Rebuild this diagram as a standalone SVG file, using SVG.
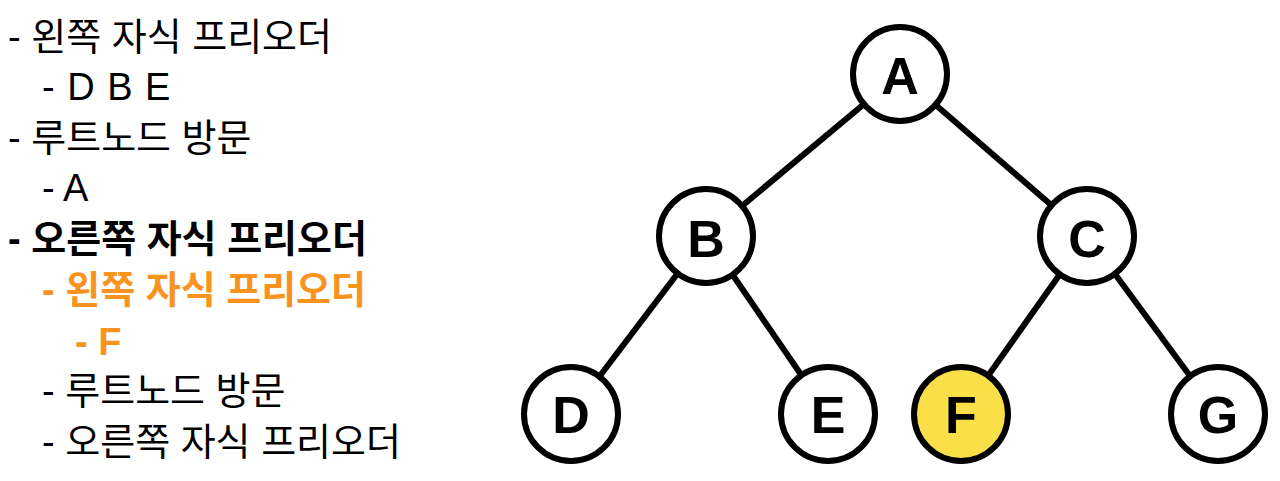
<svg xmlns="http://www.w3.org/2000/svg" width="1280" height="481" viewBox="0 0 1280 481">
<style>
.t{font-family:"Liberation Sans","Noto Sans CJK KR",sans-serif;font-size:38px;fill:#000}
.b{font-weight:bold}
.o{fill:#F7931E;font-weight:bold}
.n{fill:#fff;stroke:#000;stroke-width:6}
.hl{fill:#F9DF48}
.l{font-family:"Liberation Sans",Arial,sans-serif;font-size:52px;font-weight:bold;text-anchor:middle;fill:#000}
.e{stroke:#000;stroke-width:6;fill:none}
</style>
<rect width="1280" height="481" fill="#fff"/>
<g id="text">
<text class="t" x="8" y="50">- 왼쪽 자식 프리오더</text>
<text class="t" x="42" y="100" letter-spacing="1">- D B E</text>
<text class="t" x="8" y="151">- 루트노드 방문</text>
<text class="t" x="42" y="201">- A</text>
<text class="t b" x="8" y="252">- 오른쪽 자식 프리오더</text>
<text class="t o" x="42" y="303">- 왼쪽 자식 프리오더</text>
<text class="t o" x="75" y="355">- F</text>
<text class="t" x="42" y="404">- 루트노드 방문</text>
<text class="t" x="42" y="455">- 오른쪽 자식 프리오더</text>
</g>
<g id="edges">
<line class="e" x1="900" y1="74" x2="706" y2="236"/>
<line class="e" x1="900" y1="74" x2="1087" y2="236"/>
<line class="e" x1="706" y1="236" x2="571" y2="414"/>
<line class="e" x1="706" y1="236" x2="828" y2="414"/>
<line class="e" x1="1087" y1="236" x2="961" y2="414"/>
<line class="e" x1="1087" y1="236" x2="1218" y2="414"/>
</g>
<g id="A"><circle class="n" cx="900" cy="74" r="47"/><text class="l" x="900" y="94">A</text></g>
<g id="B"><circle class="n" cx="706" cy="236" r="47"/><text class="l" x="706" y="257">B</text></g>
<g id="C"><circle class="n" cx="1087" cy="236" r="47"/><text class="l" x="1087" y="257">C</text></g>
<g id="D"><circle class="n" cx="571" cy="414" r="47"/><text class="l" x="571" y="433">D</text></g>
<g id="E"><circle class="n" cx="828" cy="414" r="47"/><text class="l" x="828" y="433">E</text></g>
<g id="F"><circle class="n hl" cx="961" cy="414" r="47"/><text class="l" x="961" y="433">F</text></g>
<g id="G"><circle class="n" cx="1218" cy="414" r="47"/><text class="l" x="1218" y="433">G</text></g>
</svg>
